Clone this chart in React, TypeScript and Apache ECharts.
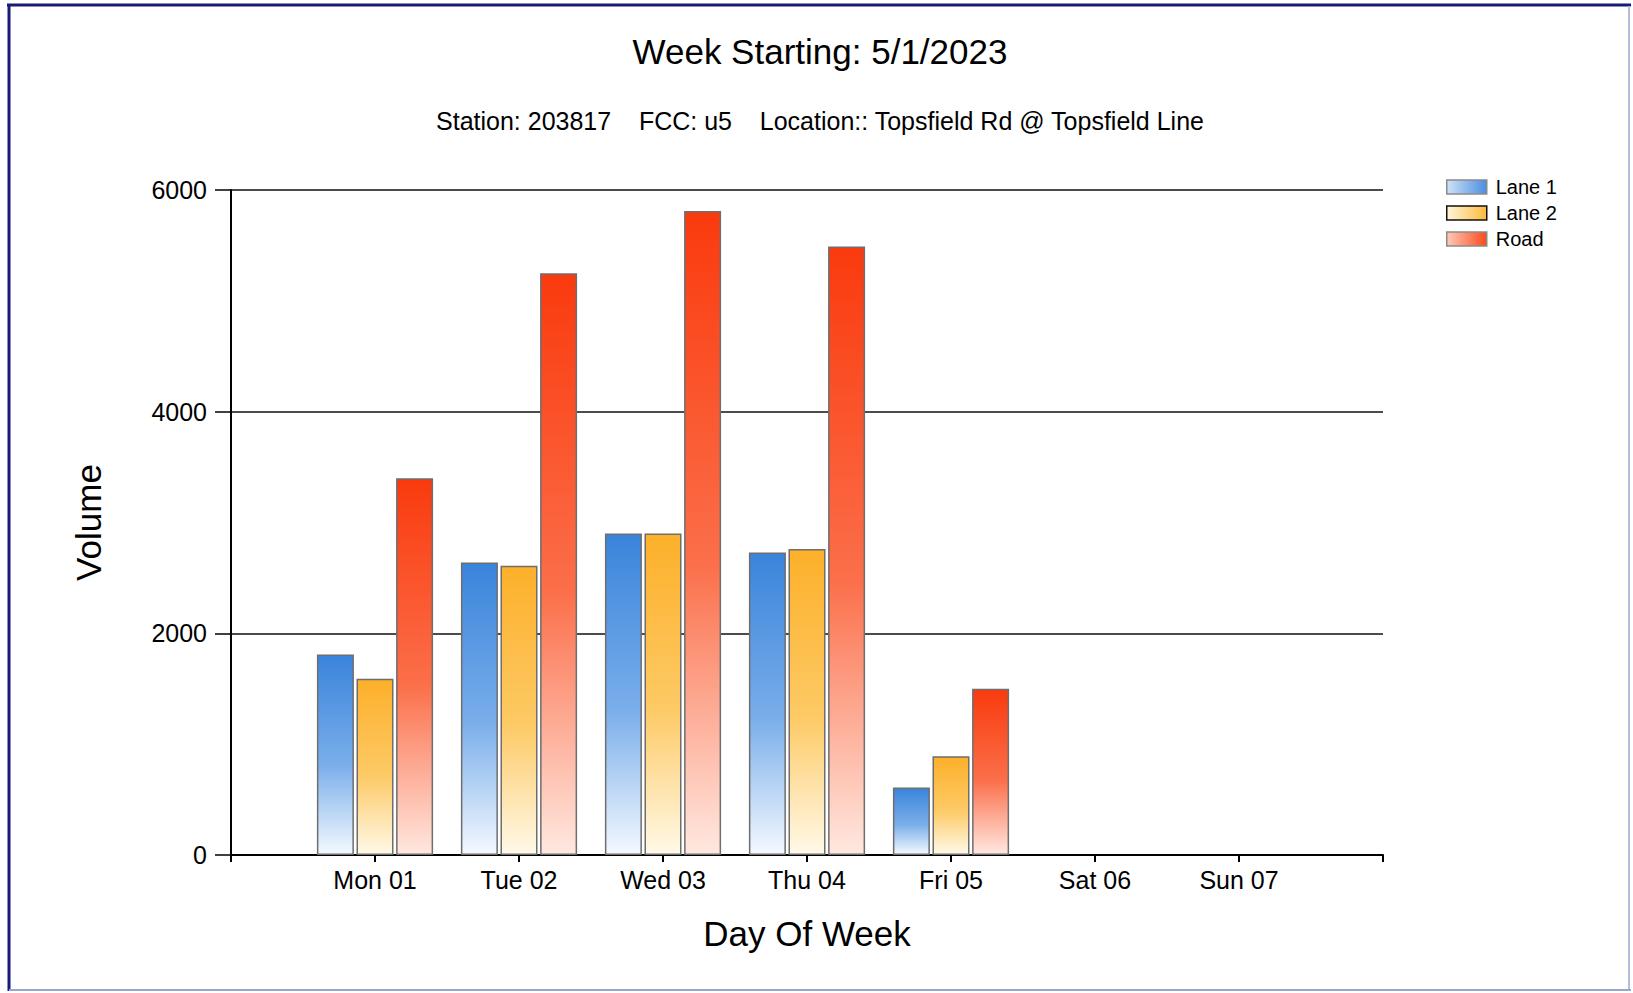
import React, { useEffect, useRef } from "react";
import * as echarts from "echarts";

const TITLE = "Week Starting: 5/1/2023";
const SUBTITLE = "Station: 203817\u00A0\u00A0\u00A0\u00A0FCC: u5\u00A0\u00A0\u00A0\u00A0Location:: Topsfield Rd @ Topsfield Line";
const days = ["Mon 01", "Tue 02", "Wed 03", "Thu 04", "Fri 05", "Sat 06", "Sun 07"];
const lane1 = [1810, 2640, 2900, 2730, 610, null, null];
const lane2 = [1590, 2610, 2900, 2760, 890, null, null];
const road = [3400, 5250, 5810, 5490, 1500, null, null];
const yTicks = [0, 2000, 4000, 6000];

const FONT = '"Liberation Sans", Arial, Helvetica, sans-serif';

const vGrad = (top: string, mid: string, bottom: string) =>
  new echarts.graphic.LinearGradient(0, 0, 0, 1, [
    { offset: 0, color: top },
    { offset: 0.55, color: mid },
    { offset: 1, color: bottom },
  ]);
const hGrad = (left: string, right: string) =>
  new echarts.graphic.LinearGradient(0, 0, 1, 0, [
    { offset: 0, color: left },
    { offset: 1, color: right },
  ]);

export default function App() {
  const ref = useRef<HTMLDivElement>(null);
  useEffect(() => {
    document.body.style.margin = "0";
    const chart = echarts.init(ref.current!, null, { renderer: "svg" });
    const cats = ["", ...days, ""];
    const pad = (a: (number | null)[]) => [null, ...a, null];
    const barBase = {
      type: "bar",
      barWidth: 37,
      barGap: "7%",
      emphasis: { disabled: true },
    };
    chart.setOption({
      animation: false,
      backgroundColor: "#ffffff",
      textStyle: { fontFamily: FONT },
      graphic: [
        { type: "line", shape: { x1: 7, y1: 5, x2: 1631, y2: 5 }, style: { stroke: "#1a1a78", lineWidth: 3 } },
        { type: "line", shape: { x1: 9, y1: 4, x2: 9, y2: 991 }, style: { stroke: "#1a1a78", lineWidth: 3 } },
        { type: "line", shape: { x1: 1629, y1: 6, x2: 1629, y2: 991 }, style: { stroke: "#b4bde0", lineWidth: 2 } },
        { type: "line", shape: { x1: 9, y1: 990, x2: 1631, y2: 990 }, style: { stroke: "#98a8cc", lineWidth: 2 } },
        {
          type: "text", x: 820, y: 51,
          style: { text: TITLE, font: `35px ${FONT}`, fill: "#000", textAlign: "center", textVerticalAlign: "middle" },
        },
        {
          type: "text", x: 820, y: 121,
          style: { text: SUBTITLE, font: `25px ${FONT}`, fill: "#000", textAlign: "center", textVerticalAlign: "middle" },
        },
      ],
      legend: {
        orient: "vertical",
        left: 1441,
        top: 172,
        itemWidth: 40,
        itemHeight: 14,
        itemGap: 6,
        icon: "rect",
        textStyle: { fontSize: 20, lineHeight: 20, color: "#000", fontFamily: FONT, padding: [0, 0, 0, 4] },
        data: [
          { name: "Lane 1", itemStyle: { color: hGrad("#cfe2f8", "#4a8ee0"), borderColor: "#8a8a8a", borderWidth: 1.5 } },
          { name: "Lane 2", itemStyle: { color: hGrad("#fff6dc", "#fdb93a"), borderColor: "#111", borderWidth: 1.5 } },
          { name: "Road", itemStyle: { color: hGrad("#fdc9b8", "#fb4a1c"), borderColor: "#8a8a8a", borderWidth: 1.5 } },
        ],
      },
      grid: { left: 231, right: 250, top: 190, bottom: 138, containLabel: false },
      xAxis: {
        type: "category",
        data: cats,
        boundaryGap: false,
        name: "Day Of Week",
        nameLocation: "middle",
        nameGap: 61,
        nameTextStyle: { fontSize: 35, color: "#000", fontFamily: FONT },
        axisLine: { show: true, lineStyle: { color: "#000", width: 2 } },
        axisTick: { show: true, length: 7, interval: 0, lineStyle: { color: "#000", width: 2 } },
        axisLabel: { interval: 0, fontSize: 25, color: "#000", margin: 12, fontFamily: FONT },
        splitLine: { show: false },
      },
      yAxis: {
        type: "value",
        min: 0,
        max: 6000,
        interval: 2000,
        name: "Volume",
        nameLocation: "middle",
        nameRotate: 90,
        nameGap: 125,
        nameTextStyle: { fontSize: 35, color: "#000", fontFamily: FONT },
        axisLine: { show: true, lineStyle: { color: "#000", width: 2 } },
        axisTick: { show: true, length: 16, lineStyle: { color: "#000", width: 1.5 } },
        axisLabel: {
          fontSize: 25, color: "#000", margin: 24, fontFamily: FONT,
          formatter: (v: number) => (yTicks.includes(v) ? String(v) : ""),
        },
        splitLine: { show: true, lineStyle: { color: "#111", width: 1.5 } },
      },
      series: [
        {
          ...barBase,
          name: "Lane 1",
          data: pad(lane1),
          itemStyle: { color: vGrad("#3a84db", "#7aaeea", "#f4f9ff"), borderColor: "#6e6e6e", borderWidth: 1.5 },
        },
        {
          ...barBase,
          name: "Lane 2",
          data: pad(lane2),
          itemStyle: { color: vGrad("#fdb02a", "#fdca66", "#fff9e8"), borderColor: "#6e6e6e", borderWidth: 1.5 },
        },
        {
          ...barBase,
          name: "Road",
          data: pad(road),
          itemStyle: { color: vGrad("#fa3a0e", "#fb6f4a", "#ffe8e0"), borderColor: "#6e6e6e", borderWidth: 1.5 },
        },
      ],
    });
    return () => chart.dispose();
  }, []);
  return <div ref={ref} style={{ position: "fixed", left: 0, top: 0, width: 1633, height: 993 }} />;
}
